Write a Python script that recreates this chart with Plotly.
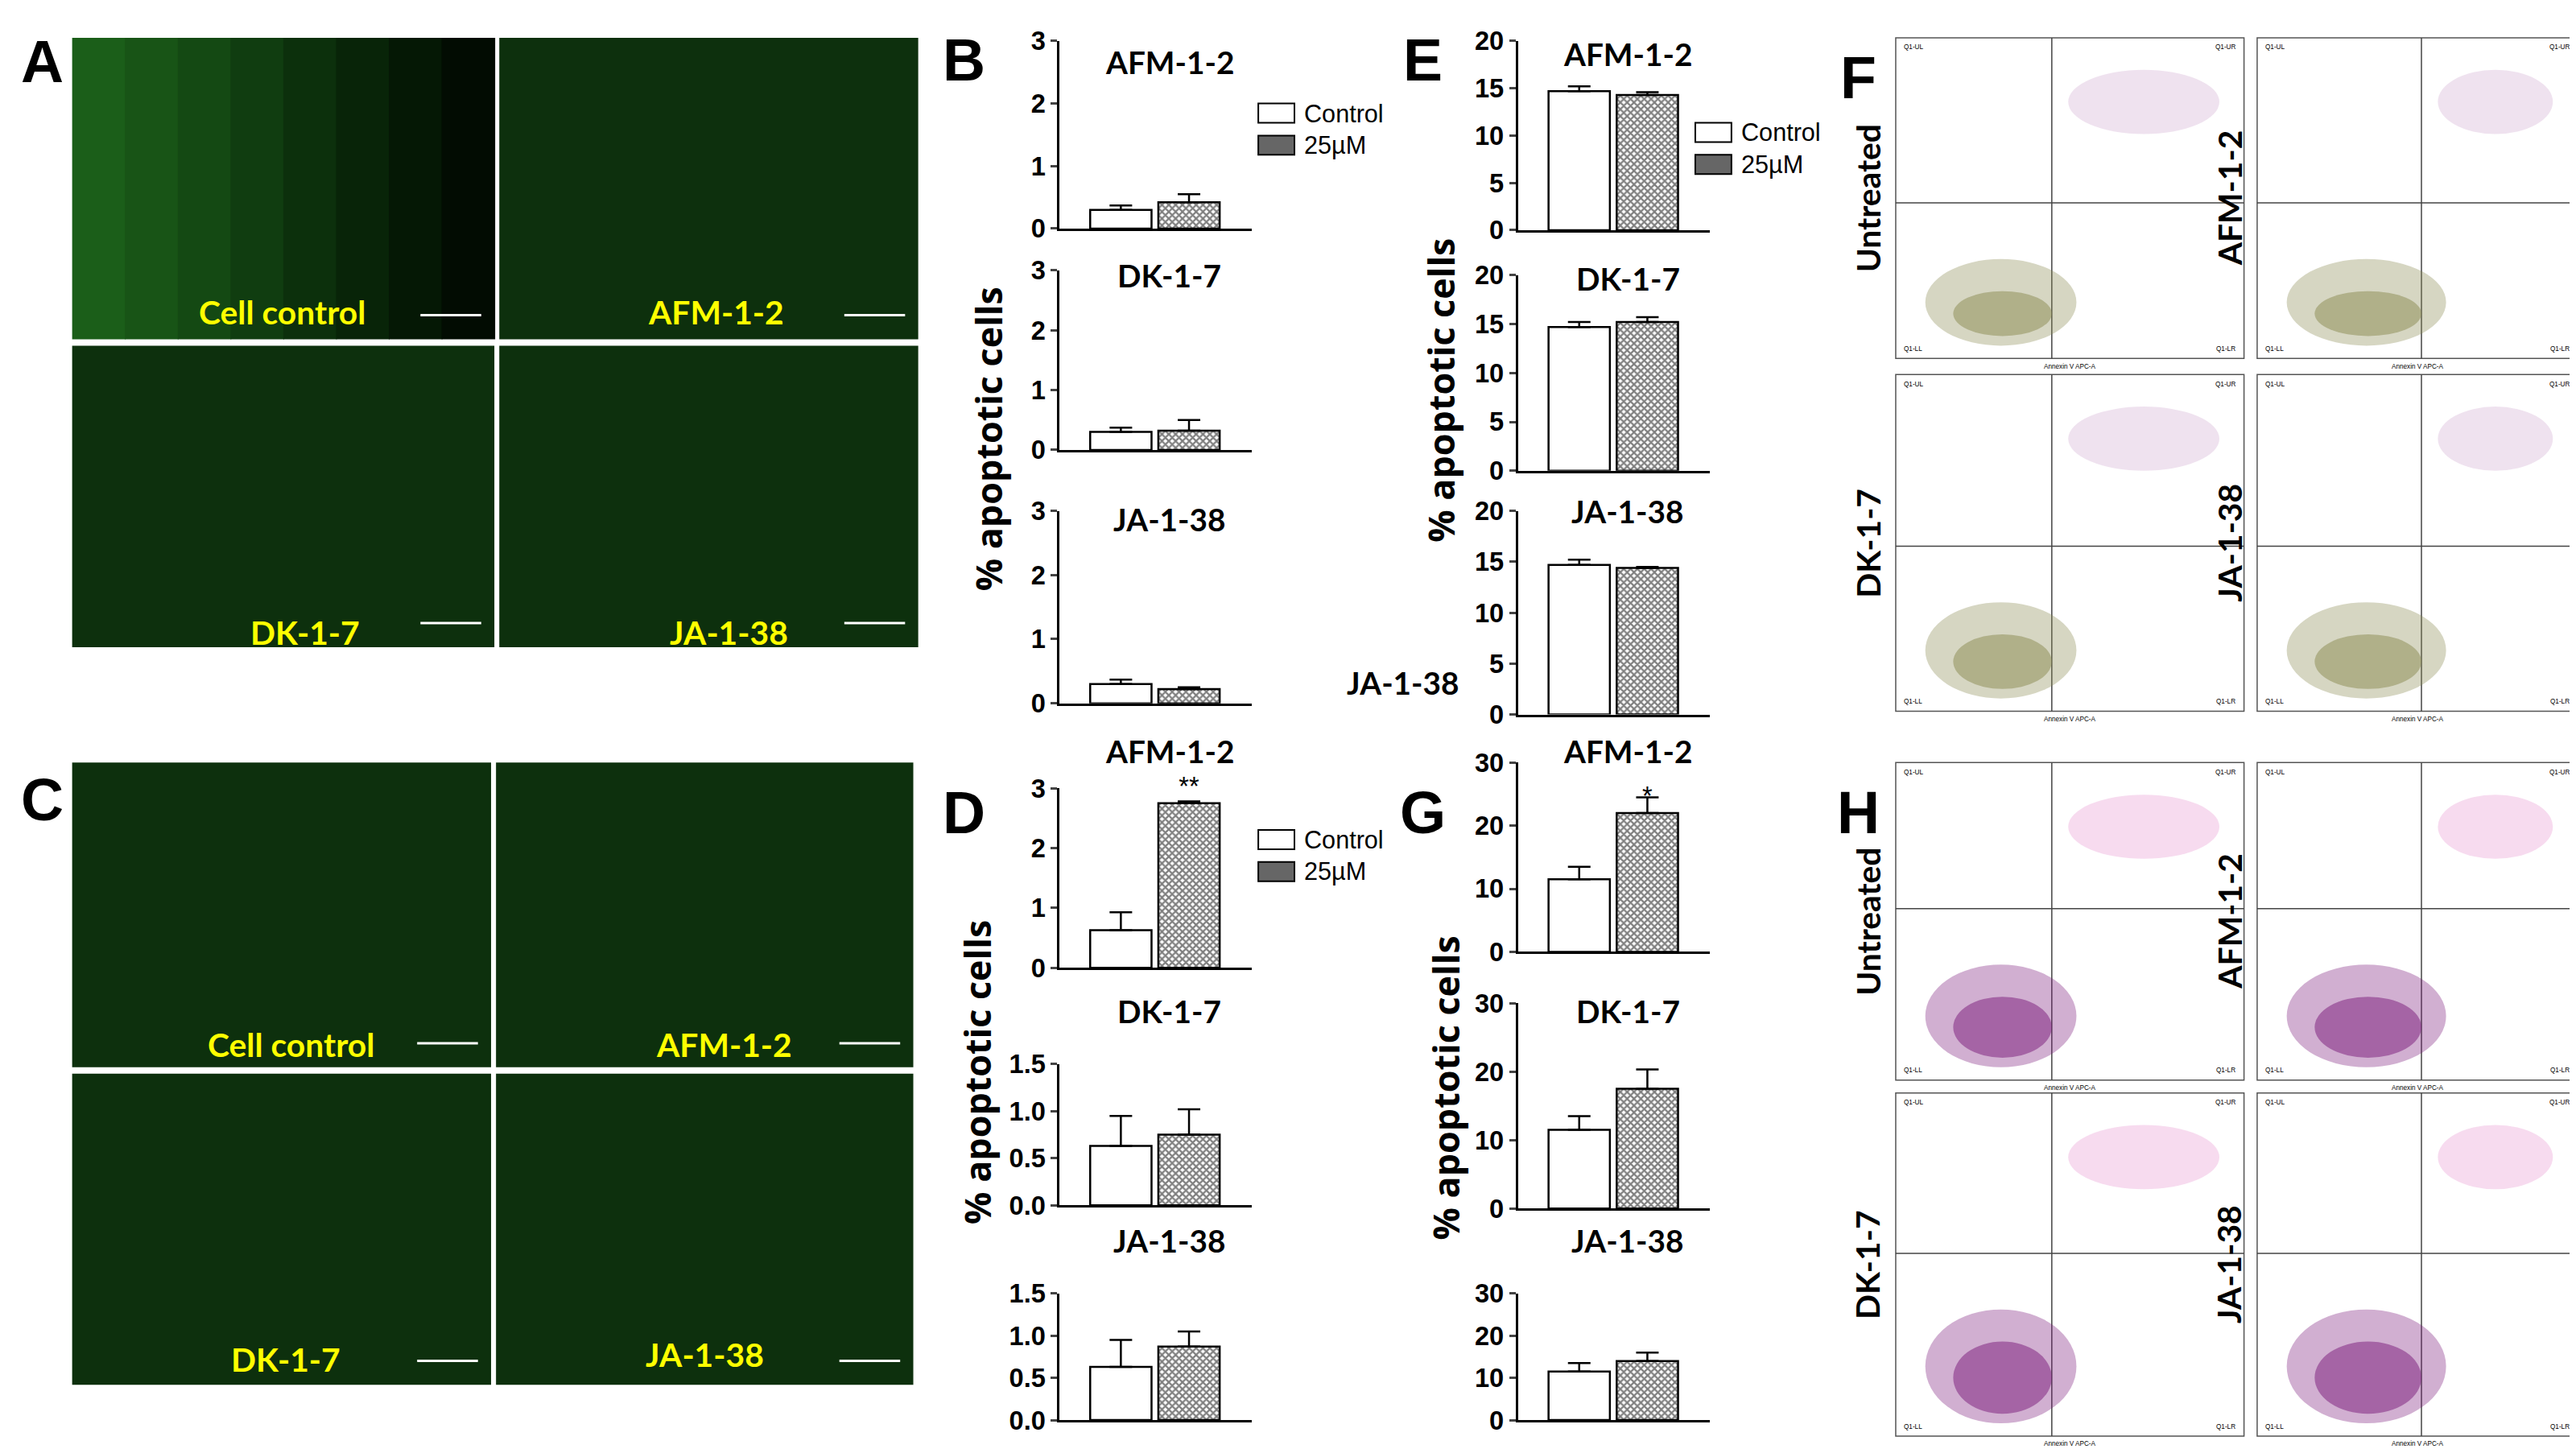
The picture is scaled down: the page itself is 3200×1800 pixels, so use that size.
import plotly.graph_objects as go

# image is laid out in a 1568 x 885 reference grid, scaled to 3200 x 1800
W, H = 1568.0, 885.0
S = 3200 / W

def px(x):
    return x / W

def py(y):
    return 1 - y / H

# ---- bar data: control vs 25uM (mean, upper error) ----
compounds = ['AFM-1-2', 'DK-1-7', 'JA-1-38']
b_ctrl = [0.30, 0.30, 0.30]
b_ctrl_err = [0.07, 0.07, 0.07]
b_trt = [0.42, 0.32, 0.22]
b_trt_err = [0.13, 0.18, 0.03]

e_ctrl = [14.7, 14.7, 14.7]
e_ctrl_err = [0.5, 0.5, 0.5]
e_trt = [14.3, 15.2, 14.4]
e_trt_err = [0.3, 0.5, 0.1]

d_ctrl = [0.63, 0.63, 0.63]
d_ctrl_err = [0.30, 0.32, 0.32]
d_trt = [2.75, 0.75, 0.87]
d_trt_err = [0.03, 0.27, 0.18]
d_sig = ['**', '', '']

g_ctrl = [11.5, 11.5, 11.5]
g_ctrl_err = [2.0, 2.0, 2.0]
g_trt = [22.0, 17.5, 14.0]
g_trt_err = [2.5, 2.8, 2.0]
g_sig = ['*', '', '']

fig = go.Figure()
shapes = []
annots = []
axis_n = [0]

def txt(x, y, s, size, color='black', bold=True, font='Lato', angle=0, xanchor='center'):
    annots.append(dict(x=px(x), y=py(y), xref='paper', yref='paper', text=('<b>%s</b>' % s) if bold else s,
                       showarrow=False, textangle=angle, xanchor=xanchor, yanchor='middle',
                       font=dict(size=size * S, color=color, family=font)))

def bar_panel(x0, ytop, ybot, ymax, ticks, tickfmt, ctrl, cerr, trt, terr, title, ty, sig=''):
    axis_n[0] += 1
    n = axis_n[0]
    xa, ya = 'x%d' % n, 'y%d' % n
    fig.add_trace(go.Bar(x=[0], y=[ctrl], width=0.9, xaxis=xa, yaxis=ya, showlegend=False,
                         marker=dict(color='white', line=dict(color='black', width=2.5)),
                         error_y=dict(type='data', array=[cerr], arrayminus=[0], symmetric=False,
                                      color='black', thickness=2.5, width=14)))
    fig.add_trace(go.Bar(x=[1], y=[trt], width=0.9, xaxis=xa, yaxis=ya, showlegend=False, cliponaxis=False,
                         marker=dict(color='white', line=dict(color='black', width=2.5),
                                     pattern=dict(shape='x', fgcolor='black', bgcolor='white', size=6, solidity=0.6)),
                         error_y=dict(type='data', array=[terr], arrayminus=[0], symmetric=False,
                                      color='black', thickness=2.5, width=14),
                         text=[sig], textposition='outside', textfont=dict(size=16 * S, color='black', family='Liberation Sans')))
    dom_x = [px(x0), px(x0 + 117)]
    dom_y = [py(ybot), py(ytop)]
    fig.layout['xaxis%d' % n] = dict(domain=dom_x, range=[-0.9, 1.92], anchor=ya, showline=True, linecolor='black',
                                     linewidth=2.5, showticklabels=False, ticks='', showgrid=False, zeroline=False,
                                     fixedrange=True)
    fig.layout['yaxis%d' % n] = dict(domain=dom_y, range=[0, ymax], anchor=xa, showline=True, linecolor='black',
                                     linewidth=2.5, tickvals=ticks, ticktext=['<b>%s</b>' % (tickfmt % t) for t in ticks],
                                     ticks='outside', ticklen=8, tickwidth=2.5, showgrid=False, zeroline=False,
                                     tickfont=dict(size=16 * S, family='Liberation Sans', color='black'))
    txt(x0 + 67, ty, title, 19)

tops = [(12, 129, 25), (155, 267, 158), (305, 425, 310)]
for i in range(3):
    bar_panel(641, tops[i][0], tops[i][1], 3, [0, 1, 2, 3], '%d', b_ctrl[i], b_ctrl_err[i], b_trt[i], b_trt_err[i], compounds[i], tops[i][2])
etops = [(12, 130, 20), (158, 280, 160), (305, 432, 305)]
for i in range(3):
    bar_panel(920, etops[i][0], etops[i][1], 20, [0, 5, 10, 15, 20], '%d', e_ctrl[i], e_ctrl_err[i], e_trt[i], e_trt_err[i], compounds[i], etops[i][2])
dtops = [(478, 590, 455), (650, 738, 617), (793, 872, 760)]
dmax = [3, 1.5, 1.5]
for i in range(3):
    tk = [0, 1, 2, 3] if i == 0 else [0.0, 0.5, 1.0, 1.5]
    fmt = '%d' if i == 0 else '%.1f'
    bar_panel(641, dtops[i][0], dtops[i][1], dmax[i], tk, fmt, d_ctrl[i], d_ctrl_err[i], d_trt[i], d_trt_err[i], compounds[i], dtops[i][2], d_sig[i])
gtops = [(462, 580, 455), (612, 740, 617), (793, 872, 760)]
for i in range(3):
    bar_panel(920, gtops[i][0], gtops[i][1], 30, [0, 10, 20, 30], '%d', g_ctrl[i], g_ctrl_err[i], g_trt[i], g_trt_err[i], compounds[i], gtops[i][2], g_sig[i])

# y axis titles
txt(598, 260, '% apoptotic cells', 22, angle=-90, font='Open Sans')
txt(873, 230, '% apoptotic cells', 22, angle=-90, font='Open Sans')
txt(591, 655, '% apoptotic cells', 22, angle=-90, font='Open Sans')
txt(876, 665, '% apoptotic cells', 22, angle=-90, font='Open Sans')
txt(850, 412, 'JA-1-38', 19)

# legends
def legend(x, y):
    shapes.append(dict(type='rect', xref='paper', yref='paper', x0=px(x), x1=px(x + 22), y0=py(y + 6), y1=py(y - 6),
                       line=dict(color='black', width=2), fillcolor='white'))
    shapes.append(dict(type='rect', xref='paper', yref='paper', x0=px(x), x1=px(x + 22), y0=py(y + 26), y1=py(y + 14),
                       line=dict(color='black', width=2), fillcolor='#666666'))
    txt(x + 27, y, 'Control', 15, bold=False, font='Liberation Sans', xanchor='left')
    txt(x + 27, y + 20, '25\u00b5M', 15, bold=False, font='Liberation Sans', xanchor='left')

legend(762, 57)
legend(1028, 69)
legend(762, 510)

# panel letters
for L, x, y in [('A', 22, 25), ('B', 583, 24), ('E', 862, 24), ('F', 1127, 35),
                ('C', 22, 485), ('D', 583, 493), ('G', 862, 493), ('H', 1127, 493)]:
    txt(x, y, L, 36, font='Liberation Sans')

# microscopy tiles
tiles = [((40, 10, 297, 198), 'Cell control', (168, 181)), ((300, 10, 555, 198), 'AFM-1-2', (432, 181)),
         ((40, 202, 297, 390), 'DK-1-7', (182, 381)), ((300, 202, 555, 390), 'JA-1-38', (440, 381)),
         ((40, 462, 295, 652), 'Cell control', (173, 638)), ((298, 462, 552, 652), 'AFM-1-2', (437, 638)),
         ((40, 656, 295, 850), 'DK-1-7', (170, 834)), ((298, 656, 552, 850), 'JA-1-38', (425, 831))]
for k, (box, lab, pos) in enumerate(tiles):
    x0, y0, x1, y1 = box
    if k == 0:
        grad = ['#1b5e19', '#185416', '#144913', '#103d10', '#0c300c', '#082408', '#051805', '#020c02']
        w = (x1 - x0) / len(grad)
        for j, c in enumerate(grad):
            shapes.append(dict(type='rect', xref='paper', yref='paper', x0=px(x0 + j * w), x1=px(x0 + (j + 1) * w + 0.5),
                               y0=py(y1), y1=py(y0), line=dict(width=0), fillcolor=c, layer='below'))
    else:
        shapes.append(dict(type='rect', xref='paper', yref='paper', x0=px(x0), x1=px(x1), y0=py(y1), y1=py(y0),
                           line=dict(width=0), fillcolor='#0d300d', layer='below'))
    shapes.append(dict(type='line', xref='paper', yref='paper', x0=px(x1 - 45), x1=px(x1 - 8),
                       y0=py(y1 - 15), y1=py(y1 - 15), line=dict(color='white', width=3)))
    txt(pos[0], pos[1], lab, 20, color='#ffff00')

# flow cytometry quadrant plots
flows = [((1150, 10, 1362, 210), 1245, 113, 'Untreated', '#8a8a50', '#c08ac0'),
         ((1370, 10, 1565, 210), 1470, 113, 'AFM-1-2', '#8a8a50', '#c08ac0'),
         ((1150, 220, 1362, 430), 1245, 327, 'DK-1-7', '#8a8a50', '#c08ac0'),
         ((1370, 220, 1565, 430), 1470, 327, 'JA-1-38', '#8a8a50', '#c08ac0'),
         ((1150, 462, 1362, 660), 1245, 553, 'Untreated', '#7a1a7a', '#e070c0'),
         ((1370, 462, 1565, 660), 1470, 553, 'AFM-1-2', '#7a1a7a', '#e070c0'),
         ((1150, 668, 1362, 882), 1245, 768, 'DK-1-7', '#7a1a7a', '#e070c0'),
         ((1370, 668, 1565, 882), 1470, 768, 'JA-1-38', '#7a1a7a', '#e070c0')]
for box, vx, hy, lab, c1, c2 in flows:
    x0, y0, x1, y1 = box
    shapes.append(dict(type='rect', xref='paper', yref='paper', x0=px(x0), x1=px(x1), y0=py(y1), y1=py(y0),
                       line=dict(color='#555555', width=1.5), fillcolor='white'))
    shapes.append(dict(type='line', xref='paper', yref='paper', x0=px(vx), x1=px(vx), y0=py(y1), y1=py(y0),
                       line=dict(color='#444444', width=1.5)))
    shapes.append(dict(type='line', xref='paper', yref='paper', x0=px(x0), x1=px(x1), y0=py(hy), y1=py(hy),
                       line=dict(color='#444444', width=1.5)))
    # dense lower-left population and sparse upper-right band
    shapes.append(dict(type='circle', xref='paper', yref='paper', x0=px(x0 + 18), x1=px(vx + 15),
                       y0=py(y1 - 8), y1=py(hy + 35), line=dict(width=0), fillcolor=c1, opacity=0.35))
    shapes.append(dict(type='circle', xref='paper', yref='paper', x0=px(x0 + 35), x1=px(vx), y0=py(y1 - 14),
                       y1=py(hy + 55), line=dict(width=0), fillcolor=c1, opacity=0.5))
    shapes.append(dict(type='circle', xref='paper', yref='paper', x0=px(vx + 10), x1=px(x1 - 15),
                       y0=py(y0 + 60), y1=py(y0 + 20), line=dict(width=0), fillcolor=c2, opacity=0.25))
    txt(x0 - 17, (y0 + y1) / 2, lab, 20, angle=-90)
    txt(x0 + 4, y0 + 6, 'Q1-UL', 4, bold=False, font='Liberation Sans', xanchor='left')
    txt(x1 - 4, y0 + 6, 'Q1-UR', 4, bold=False, font='Liberation Sans', xanchor='right')
    txt(x0 + 4, y1 - 6, 'Q1-LL', 4, bold=False, font='Liberation Sans', xanchor='left')
    txt(x1 - 4, y1 - 6, 'Q1-LR', 4, bold=False, font='Liberation Sans', xanchor='right')
    txt((x0 + x1) / 2, y1 + 5, 'Annexin V APC-A', 4, bold=False, font='Liberation Sans')

fig.update_layout(width=3200, height=1800, margin=dict(l=0, r=0, t=0, b=0), paper_bgcolor='white',
                  plot_bgcolor='rgba(0,0,0,0)', barmode='overlay', shapes=shapes, annotations=annots,
                  showlegend=False)
fig.write_html("out.html")
